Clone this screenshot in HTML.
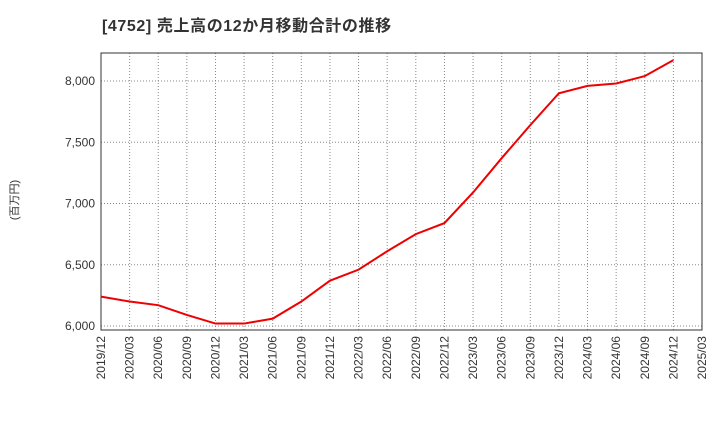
<!DOCTYPE html>
<html><head><meta charset="utf-8"><style>
body{margin:0;background:#fff;font-family:"Liberation Sans","Noto Sans CJK JP",sans-serif;}
</style></head><body>
<svg width="720" height="440" xmlns="http://www.w3.org/2000/svg">
<text x="102" y="31" font-size="16" font-weight="bold" fill="#333" letter-spacing="0.6" font-family="Liberation Sans, Noto Sans CJK JP, sans-serif">[4752]  売上高の12か月移動合計の推移</text>
<text transform="translate(18,200) rotate(-90)" text-anchor="middle" font-size="11" fill="#333" font-family="Liberation Sans, Noto Sans CJK JP, sans-serif">(百万円)</text>
<g id="grid"></g><g id="yt"></g><g id="xt"></g>
<rect x="101" y="53" width="601" height="277" fill="none" stroke="#333" stroke-width="1"/>
<polyline id="line" fill="none" stroke="#e00" stroke-width="2"/>
</svg>
<script>
const categories=["2019/12","2020/03","2020/06","2020/09","2020/12","2021/03","2021/06","2021/09","2021/12","2022/03","2022/06","2022/09","2022/12","2023/03","2023/06","2023/09","2023/12","2024/03","2024/06","2024/09","2024/12","2025/03"];
const values=[6240,6200,6170,6090,6020,6020,6060,6200,6370,6460,6610,6750,6840,7090,7370,7640,7900,7960,7980,8040,8170];
const yTicks=[6000,6500,7000,7500,8000];
const yTickLabels=["6,000","6,500","7,000","7,500","8,000"];
const NS="http://www.w3.org/2000/svg";
const x0=101,x1=702;
function xs(i){return x0+i*(x1-x0)/(categories.length-1);}
function ys(v){return 326-(v-6000)*(326-81)/2000;}
const grid=document.getElementById('grid'),yt=document.getElementById('yt'),xt=document.getElementById('xt');
yTicks.forEach((t,i)=>{
 const l=document.createElementNS(NS,'line');
 
 
 l.setAttribute('x1',x0);l.setAttribute('x2',x1);l.setAttribute('y1',ys(t));l.setAttribute('y2',ys(t));
 l.setAttribute('stroke','#888');l.setAttribute('stroke-dasharray','1,2');grid.appendChild(l);
 const tx=document.createElementNS(NS,'text');
 
 
 tx.setAttribute('x',95);tx.setAttribute('y',ys(t)+4);tx.setAttribute('text-anchor','end');
 tx.setAttribute('font-size','12');tx.setAttribute('fill','#333');tx.textContent=yTickLabels[i];yt.appendChild(tx);
});
categories.forEach((c,i)=>{
 const l=document.createElementNS(NS,'line');
 
 
 l.setAttribute('x1',xs(i));l.setAttribute('x2',xs(i));l.setAttribute('y1',53);l.setAttribute('y2',330);
 l.setAttribute('stroke','#888');l.setAttribute('stroke-dasharray','1,2');grid.appendChild(l);
 const tx=document.createElementNS(NS,'text');
 
 
 tx.setAttribute('transform','translate('+(xs(i)+4)+',336) rotate(-90)');tx.setAttribute('text-anchor','end');
 tx.setAttribute('font-size','12');tx.setAttribute('fill','#333');tx.textContent=c;xt.appendChild(tx);
});
document.getElementById('line').setAttribute('points',values.map((v,i)=>xs(i)+','+ys(v)).join(' '));
</script>
</body></html>
